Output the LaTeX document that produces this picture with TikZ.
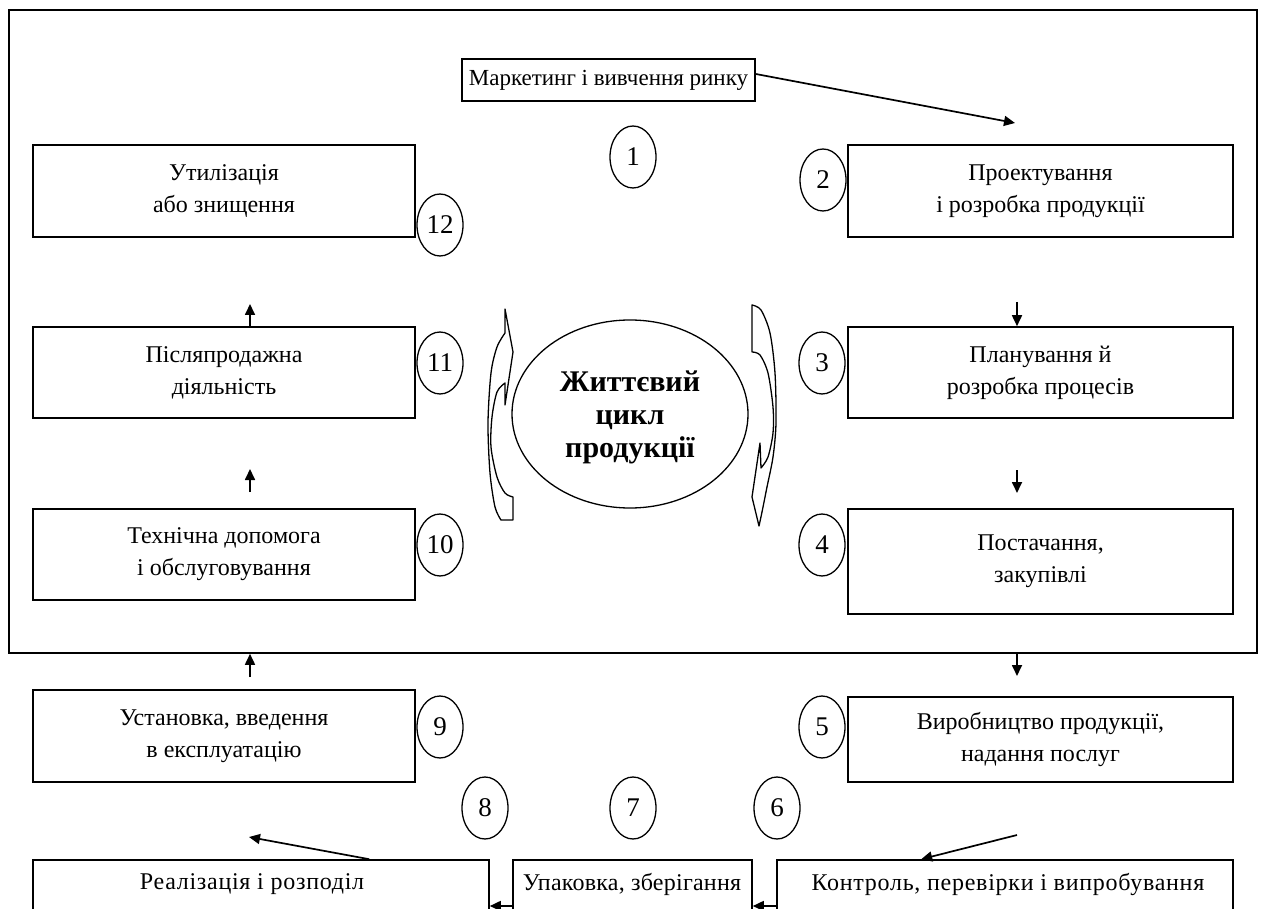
\documentclass[tikz,border=0pt]{standalone}
\usepackage{fontspec}
\setmainfont{Liberation Serif}
\usetikzlibrary{arrows.meta,shapes.geometric}
\begin{document}
\begin{tikzpicture}[x=1pt,y=-1pt,
  box/.style={draw,line width=1.6pt,align=center,inner sep=0pt,font=\fontsize{24}{32}\selectfont},
  txt/.style={inner sep=0pt,font=\fontsize{24}{32}\selectfont\addfontfeature{LetterSpace=3}},
  num/.style={draw,ellipse,line width=1.3pt,minimum width=46pt,minimum height=62pt,inner sep=0pt,font=\fontsize{27}{27}\selectfont},
  arr/.style={line width=1.7pt,-{Triangle[width=10pt,length=11pt]}},
  curv/.style={line width=1.3pt,line join=round}
]
\useasboundingbox (0,0) rectangle (1262,909);
\clip (0,0) rectangle (1262,909);
% outer frame
\node[draw,line width=1.6pt,minimum width=1248pt,minimum height=643pt,inner sep=0pt] (frame) at (633,331.5) {};
% top box
\node[box,minimum width=293pt,minimum height=42pt,font=\fontsize{23}{30}\selectfont] (mk) at (608.5,80) {Маркетинг і вивчення ринку};
% left column
\node[box,minimum width=382pt,minimum height=92pt] (b12) at (224,191) {Утилізація\\або знищення};
\node[box,minimum width=382pt,minimum height=91pt] (b11) at (224,372.5) {Післяпродажна\\діяльність};
\node[box,minimum width=382pt,minimum height=91pt] (b10) at (224,554.5) {Технічна допомога\\і обслуговування};
\node[box,minimum width=382pt,minimum height=92pt] (b9) at (224,736) {Установка, введення\\в експлуатацію};
% right column
\node[box,minimum width=385pt,minimum height=92pt] (b2) at (1040.5,191) {Проектування\\і розробка продукції};
\node[box,minimum width=385pt,minimum height=91pt] (b3) at (1040.5,372.5) {Планування й\\розробка процесів};
\node[box,minimum width=385pt,minimum height=105pt] (b4) at (1040.5,561.5) {Постачання,\\закупівлі};
\node[box,minimum width=385pt,minimum height=85pt] (b5) at (1040.5,739.5) {Виробництво продукції,\\надання послуг};
% bottom row (boxes run past the lower edge)
\node[box,minimum width=456pt,minimum height=92pt] (b8) at (261,906) {};
\node[box,minimum width=239pt,minimum height=92pt] (b7) at (632.5,906) {};
\node[box,minimum width=456pt,minimum height=92pt] (b6) at (1005,906) {};
\node[txt] (t8) at (252,884) {Реалізація і розподіл};
\node[txt,font=\fontsize{24}{32}\selectfont\addfontfeature{LetterSpace=1}] (t7) at (632,884) {Упаковка, зберігання};
\node[txt] (t6) at (1008,884) {Контроль, перевірки і випробування};
% numbers
\node[num] (n1) at (633,157) {1};
\node[num] (n2) at (823,180) {2};
\node[num] (n12) at (440,225) {12};
\node[num] (n11) at (440,363) {11};
\node[num] (n3) at (822,363) {3};
\node[num] (n10) at (440,545) {10};
\node[num] (n4) at (822,545) {4};
\node[num] (n9) at (440,727) {9};
\node[num] (n5) at (822,727) {5};
\node[num] (n8) at (485,808) {8};
\node[num] (n7) at (633,808) {7};
\node[num] (n6) at (777,808) {6};
% centre
\node[draw,ellipse,line width=1.3pt,minimum width=236pt,minimum height=188pt,inner sep=0pt] (c) at (630,414) {};
\node[align=center,inner sep=0pt,font=\fontsize{30}{33}\selectfont\bfseries] (ct) at (630,417) {Життєвий\\цикл\\продукції};
% curved arrows
\draw[curv] (505,309) -- (513,352) -- (505,405) -- (505,383)
  -- plot[smooth] coordinates {(505,383) (497,392) (492,417) (491,447) (497,477) (505,493) (513,497)}
  -- (513,520) -- (501,520)
  -- plot[smooth] coordinates {(501,520) (495,507) (490,473) (488,423) (491,373) (497,347) (505,333)}
  -- cycle;
\draw[curv] (752,305) -- (752,352)
  -- plot[smooth] coordinates {(752,352) (760,355) (768,373) (773,407) (773,433) (768,457) (761,468)}
  -- (760,443) -- (752,497) -- (759,526)
  -- plot[smooth] coordinates {(759,526) (762,512) (767,487) (773,457) (776,423) (775,373) (770,333) (761,310) (752,305)}
  -- cycle;
% connectors
\coordinate (mkt) at (1015,123);
\draw[arr] ([yshift=6pt]mk.east) -- (mkt);
\coordinate (a23) at (1017,302);
\draw[arr] (a23) -- (a23 |- b3.north);
\coordinate (a34s) at (1017,470);
\coordinate (a34e) at (1017,493);
\draw[arr] (a34s) -- (a34e);
\coordinate (a45) at (1017,676);
\draw[arr] (a45 |- frame.south) -- (a45);
\coordinate (a56) at (1017,835);
\draw[arr] (a56) -- ([xshift=145pt]b6.north west);
\draw[arr] (b6.west) -- (b7.east);
\draw[arr] (b7.west) -- (b8.east);
\coordinate (a89) at (249,837);
\draw[arr] ([xshift=337pt]b8.north west) -- (a89);
\coordinate (a9) at (250,677);
\draw[arr] (a9) -- (a9 |- frame.south);
\coordinate (a10s) at (250,492);
\coordinate (a10e) at (250,469);
\draw[arr] (a10s) -- (a10e);
\coordinate (a12) at (250,304);
\draw[arr] (a12 |- b11.north) -- (a12);
\end{tikzpicture}
\end{document}
